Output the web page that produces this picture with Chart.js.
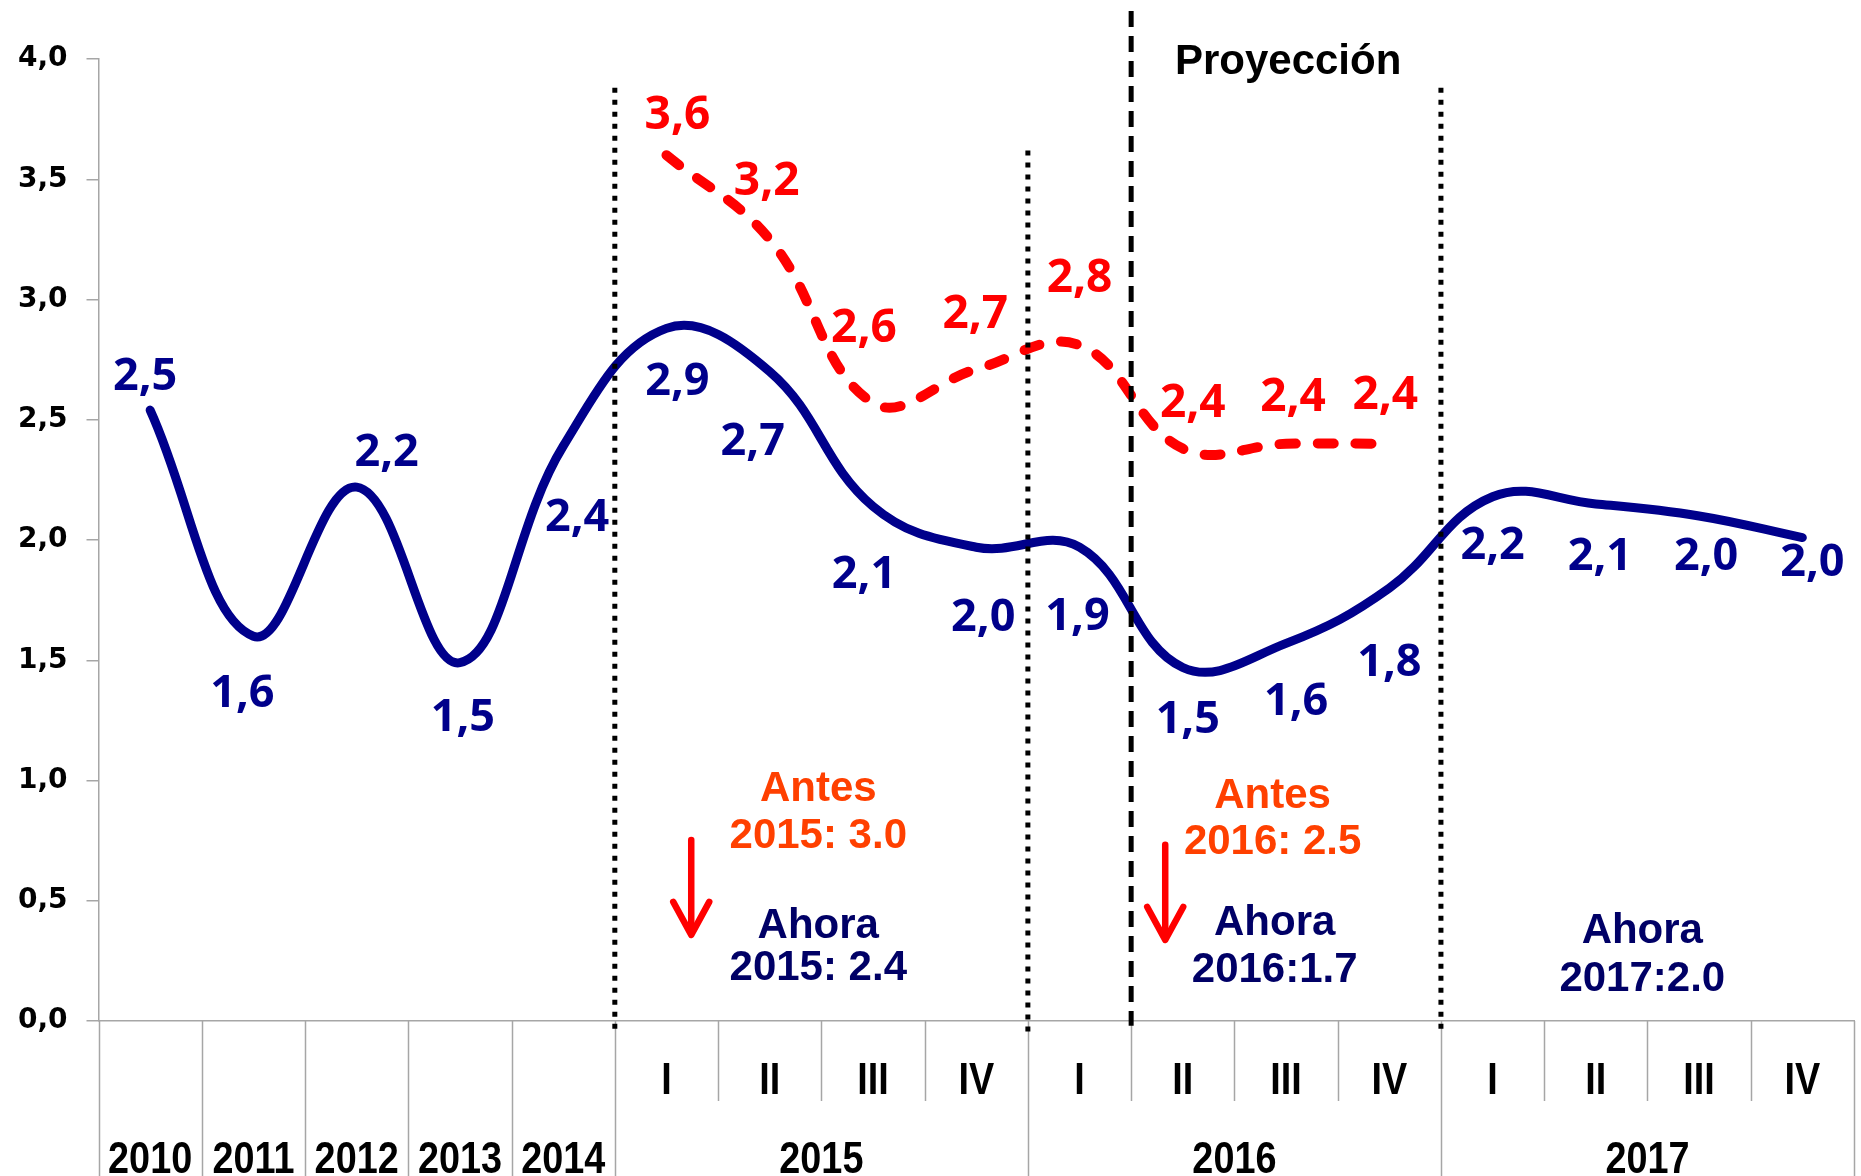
<!DOCTYPE html>
<html><head><meta charset="utf-8">
<script src="https://cdn.jsdelivr.net/npm/chart.js@4.4.1/dist/chart.umd.min.js"></script>
<style>html,body{margin:0;padding:0;background:#fff;}#wrap{width:1861px;height:1176px;}</style>
</head><body><div id="wrap"><canvas id="c" width="1861" height="1176"></canvas></div>
<script>
// ---- data ----
const categories = ['2010','2011','2012','2013','2014','I','II','III','IV','I','II','III','IV','I','II','III','IV'];
const groupLabels = ['2015','2016','2017'];
const groupFirst = [5, 9, 13];
const groupLast = [8, 12, 16];
const yTicks = [0, 0.5, 1, 1.5, 2, 2.5, 3, 3.5, 4];

const ahoraValues = [2.54,1.60,2.22,1.49,2.39,2.88,2.70,2.14,1.97,1.97,1.47,1.57,1.80,2.18,2.15,2.10,2.01];
const ahoraLabels = ['2,5','1,6','2,2','1,5','2,4','2,9','2,7','2,1','2,0','1,9','1,5','1,6','1,8','2,2','2,1','2,0','2,0'];
const antesValues = [null,null,null,null,null,3.60,3.25,2.57,2.71,2.81,2.38,2.40,2.40,null,null,null,null];
const antesLabels = [null,null,null,null,null,'3,6','3,2','2,6','2,7','2,8','2,4','2,4','2,4',null,null,null,null];

// ---- label placement (pixel offsets from point) ----
const ahoraDx = [-5,-11,30,3,14,11,-17,-9,7,-2,5,10,0,0,4,7,10];
const ahoraDy = [-36,55,-37,52,69,51,67,66,68,67,49,56,72,46,50,38,22];
const antesDx = [0,0,0,0,0,11,-3,-9,-1,0,10,7,-4,0,0,0,0];
const antesDy = [0,0,0,0,0,-43,-61,-77,-58,-70,-48,-49,-51,0,0,0,0];

const NAVY = '#00008B', RED = '#FF0000', ORANGE = '#FF4000', AHORA = '#000066', GRID = '#A6A6A6';
const LBL_FONT = '"Open Sans", "DejaVu Sans", sans-serif';
const ARIAL = '"Liberation Sans", Arial, sans-serif';
const NARROW = '"Liberation Sans", Arial, sans-serif';

// annotation texts: [text, xIndex, yValue, color]
const notes = [
  ['Antes', 6.47, 0.978, ORANGE], ['2015: 3.0', 6.47, 0.783, ORANGE],
  ['Ahora', 6.47, 0.408, AHORA], ['2015: 2.4', 6.47, 0.233, AHORA],
  ['Antes', 10.87, 0.949, ORANGE], ['2016: 2.5', 10.87, 0.758, ORANGE],
  ['Ahora', 10.89, 0.420, AHORA], ['2016:1.7', 10.89, 0.225, AHORA],
  ['Ahora', 14.45, 0.387, AHORA], ['2017:2.0', 14.45, 0.187, AHORA]
];
const arrows = [[5.24, 0.753, 0.358], [9.83, 0.733, 0.337]];
// vertical reference lines: [boundaryIndex, topValue, bottomValue, style]
const refLines = [[5, 3.88, -0.05, 'dot'], [9, 3.62, -0.05, 'dot'], [10, 4.2, -0.02, 'dash'], [13, 3.88, -0.05, 'dot']];

function txt(ctx, s, x, yc, size, family, color, cap, sx) {
  ctx.save();
  ctx.font = 'bold ' + size + 'px ' + family;
  ctx.fillStyle = color; ctx.textAlign = 'center'; ctx.textBaseline = 'alphabetic';
  ctx.translate(x, yc + size * cap / 2);
  if (sx) ctx.scale(sx, 1);
  ctx.fillText(s, 0, 0);
  ctx.restore();
}

const deco = {
  id: 'deco',
  beforeDraw(chart) {
    const ctx = chart.ctx; ctx.save(); ctx.fillStyle = '#fff'; ctx.fillRect(0, 0, chart.width, chart.height); ctx.restore();
  },
  afterDraw(chart) {
    const ctx = chart.ctx, xs = chart.scales.x, ys = chart.scales.y, ca = chart.chartArea;
    const bx = b => xs.getPixelForValue(b - 0.5);
    // category separators
    ctx.save(); ctx.strokeStyle = GRID; ctx.lineWidth = 1.5;
    for (let b = 0; b <= categories.length; b++) {
      const long = b <= 5 || groupFirst.includes(b) || b === categories.length;
      const x = Math.round(bx(b)) + 0.5;
      ctx.beginPath(); ctx.moveTo(x, ca.bottom); ctx.lineTo(x, long ? chart.height : 1101); ctx.stroke();
    }
    ctx.restore();
    // category labels
    for (let i = 0; i < categories.length; i++) {
      const x = xs.getPixelForValue(i);
      const yc = i < 5 ? 1157 : 1078;
      txt(ctx, categories[i], x, yc, 45, NARROW, '#000', 0.716, 0.84);
    }
    for (let g = 0; g < groupLabels.length; g++) {
      const x = (bx(groupFirst[g]) + bx(groupLast[g] + 1)) / 2;
      txt(ctx, groupLabels[g], x, 1157, 45, NARROW, '#000', 0.716, 0.84);
    }
    // data labels
    for (let i = 0; i < categories.length; i++) {
      if (ahoraLabels[i]) txt(ctx, ahoraLabels[i], xs.getPixelForValue(i) + ahoraDx[i], ys.getPixelForValue(ahoraValues[i]) + ahoraDy[i], 45, LBL_FONT, NAVY, 0.714);
      if (antesLabels[i]) txt(ctx, antesLabels[i], xs.getPixelForValue(i) + antesDx[i], ys.getPixelForValue(antesValues[i]) + antesDy[i], 46, LBL_FONT, RED, 0.714);
    }
    // annotations
    notes.forEach(n => txt(ctx, n[0], xs.getPixelForValue(n[1]), ys.getPixelForValue(n[2]), 42, ARIAL, n[3], 0.716));
    txt(ctx, 'Proyección', xs.getPixelForValue(11.02), ys.getPixelForValue(4.0), 42, ARIAL, '#000', 0.716);
    // arrows
    ctx.save(); ctx.strokeStyle = RED; ctx.lineWidth = 6.5; ctx.lineCap = 'round'; ctx.lineJoin = 'round';
    arrows.forEach(a => {
      const x = xs.getPixelForValue(a[0]), y0 = ys.getPixelForValue(a[1]), y1 = ys.getPixelForValue(a[2]);
      ctx.beginPath(); ctx.moveTo(x, y0); ctx.lineTo(x, y1 - 3); ctx.stroke();
      ctx.beginPath(); ctx.moveTo(x - 18, y1 - 33); ctx.lineTo(x, y1); ctx.lineTo(x + 18, y1 - 33); ctx.stroke();
    });
    ctx.restore();
    // reference vertical lines
    refLines.forEach(r => {
      ctx.save(); ctx.strokeStyle = '#000';
      if (r[3] === 'dot') { ctx.lineWidth = 5; ctx.setLineDash([5, 7]); }
      else { ctx.lineWidth = 5; ctx.setLineDash([16, 9]); }
      const x = bx(r[0]);
      ctx.beginPath(); ctx.moveTo(x, ys.getPixelForValue(r[1])); ctx.lineTo(x, ys.getPixelForValue(r[2])); ctx.stroke();
      ctx.restore();
    });
  }
};

new Chart(document.getElementById('c'), {
  type: 'line',
  data: {
    labels: categories,
    datasets: [
      { label: 'Ahora', data: ahoraValues, borderColor: NAVY, borderWidth: 9, tension: 0.4, pointRadius: 0, fill: false, borderCapStyle: 'round', borderJoinStyle: 'round' },
      { label: 'Antes', data: antesValues, borderColor: RED, borderWidth: 10, tension: 0.4, pointRadius: 0, fill: false, borderDash: [16, 22], borderCapStyle: 'round', spanGaps: false }
    ]
  },
  options: {
    responsive: false, animation: false, devicePixelRatio: 1,
    layout: { padding: { top: 59, right: 7, left: 0, bottom: 0 } },
    plugins: { legend: { display: false }, tooltip: { enabled: false }, title: { display: false } },
    scales: {
      x: {
        type: 'category', offset: true,
        grid: { display: false, offset: true },
        border: { display: true, color: GRID, width: 1.5 },
        ticks: { display: false },
        afterFit(s) { s.height = 155; }
      },
      y: {
        min: 0, max: 4,
        afterBuildTicks(s) { s.ticks = yTicks.map(v => ({ value: v })); },
        grid: { drawOnChartArea: false, drawTicks: true, tickLength: 12, color: GRID, lineWidth: 1.5 },
        border: { display: true, color: GRID, width: 1.5 },
        ticks: { padding: 19, color: '#000', font: { family: '"DejaVu Sans", Verdana, sans-serif', weight: 'bold', size: 28 },
          callback: v => Number(v).toFixed(1).replace('.', ',') },
        afterFit(s) { s.width = 98.5; }
      }
    }
  },
  plugins: [deco]
});
</script></body></html>
